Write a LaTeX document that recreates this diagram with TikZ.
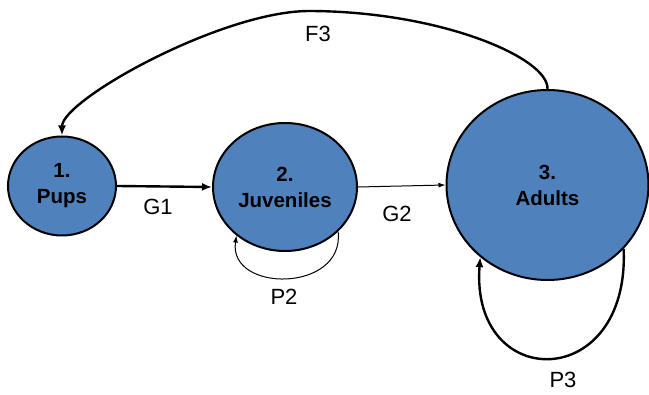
\documentclass[tikz,border=0pt]{standalone}
\usepackage{fontspec}
\setmainfont{Liberation Sans}
\usetikzlibrary{shapes.geometric,arrows.meta}
\definecolor{stageblue}{RGB}{79,129,189}

\begin{document}
\begin{tikzpicture}[x=1pt, y=-1pt, draw=black,
	stage/.style={ellipse, draw, line width=2pt, fill=stageblue, inner sep=0pt,
		align=center, font=\fontsize{20.5}{26}\selectfont\bfseries},
	lab/.style={font=\fontsize{22}{26}\selectfont},
	bold/.style={line width=2.4pt, -{Latex[length=10pt,width=8pt]}},
	fine/.style={line width=1pt, -{Latex[length=7pt,width=5pt]}}]
	\useasboundingbox (0,0) rectangle (649,395);
	\node[stage, minimum width=108, minimum height=99] (pups) at ( 62,186) {1.\\Pups};
	\node[stage, minimum width=144, minimum height=128] (juv) at (285,187) {2.\\Juveniles};
	\node[stage, minimum width=202, minimum height=190] (adu) at (547.5,185) {3.\\Adults};
	\draw[bold] (pups.east)--(juv.west);
	\draw[fine] (juv.east)--(adu.west);
	\draw[fine] (juv.-40) .. controls (345,293) and (228,293) .. (juv.-135);
	\draw[bold] (adu.-40) .. controls (630,393) and (470,393) .. (adu.-133);
	\draw[bold] (adu.north) .. controls (549,58) and (440,11) .. (308,11)
		.. controls (220,12) and (62,100) .. (pups.north);
	\node[lab] (g1) at (158,207) {G1};
	\node[lab] (g2) at (397,214) {G2};
	\node[lab] (p2) at (284,297) {P2};
	\node[lab] (p3) at (563,380) {P3};
	\node[lab] (f3) at (318,34) {F3};
\end{tikzpicture}
\end{document}
